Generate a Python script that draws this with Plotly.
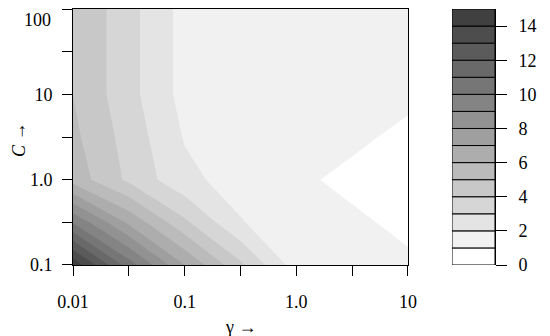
import numpy as np
import plotly.graph_objects as go

# grid of the parameter search
gamma_values = [0.01, 0.0316, 0.1, 0.316, 1.0, 3.16, 10.0]
C_values = [0.1, 0.316, 1.0, 3.16, 10.0, 31.6, 100.0]

# values (rows: C from 0.1 up to 100, columns: gamma 0.01 .. 10)
z_rows = [
    [14.7, 10.5, 7.0, 4.2, 1.5, 1.25, 1.11],    # C = 0.1
    [9.9, 6.8, 4.2, 2.07, 1.3, 1.113, 0.85],    # C = 0.316
    [5.59, 3.80, 2.26, 1.58, 1.113, 0.85, 0.80],  # C = 1
    [5.23, 3.59, 1.93, 1.5, 1.3, 1.128, 0.85],  # C = 3.16
    [4.99, 3.34, 1.645, 1.45, 1.35, 1.25, 1.144],  # C = 10
    [4.99, 3.34, 1.645, 1.45, 1.4, 1.35, 1.3],  # C = 31.6
    [4.99, 3.34, 1.645, 1.45, 1.4, 1.35, 1.3],  # C = 100
]

levels = list(range(0, 16))
x_tick_vals = [0.01, 0.0316, 0.1, 0.316, 1.0, 3.16, 10.0]
x_tick_text = ["0.01", "", "0.1", "", "1.0", "", "10"]
y_tick_vals = [0.1, 0.316, 1.0, 3.16, 10.0, 31.6, 100.0]
y_tick_text = ["0.1", "", "1.0", "", "10", "", ""]
y_top_label = "100"   # placed as annotation so it stays inside the page
cbar_tick_vals = [0, 2, 4, 6, 8, 10, 12, 14]

n_bands = len(levels) - 1
band_grays = [int(round(255 * (1 - 0.75 * k / (n_bands - 1)))) for k in range(n_bands)]
band_colors = [f"rgb({g},{g},{g})" for g in band_grays]
colorscale = [[k / (n_bands - 1), band_colors[k]] for k in range(n_bands)]

FONT = "Liberation Serif"
FS = 18
W, H = 550, 336
EPS = 1e-4
OFF = 8  # page body margin

px0, px1, py0, py1 = 73 - OFF, 408 - OFF, 9 - OFF, 265 - OFF
cx0, cx1 = 452 - OFF, 495 - OFF

fig = go.Figure()
fig.add_trace(go.Contour(
    x=np.log10(gamma_values), y=np.log10(C_values), z=z_rows,
    contours=dict(start=1, end=14, size=1, coloring="fill", showlines=False),
    line=dict(width=0, smoothing=0),
    colorscale=colorscale, showscale=False, hoverinfo="skip",
    xaxis="x", yaxis="y",
))

# colour key as stacked boxes on its own axis
fig.add_trace(go.Bar(
    x=[0] * n_bands, y=[1] * n_bands, base=levels[:-1], width=1,
    marker=dict(color=band_colors, line=dict(color="black", width=1)),
    xaxis="x2", yaxis="y2", showlegend=False, hoverinfo="skip",
))

common = dict(tickcolor="black", tickwidth=1, showgrid=False, zeroline=False,
              automargin=False, ticklabeloverflow="allow")

fig.update_layout(
    width=W, height=H, margin=dict(l=0, r=0, t=0, b=0, autoexpand=False),
    paper_bgcolor="white", plot_bgcolor="white",
    font=dict(family=FONT, size=FS, color="black"),
    showlegend=False,
    xaxis=dict(domain=[px0 / W, px1 / W], range=[-2 - EPS, 1 + EPS],
               tickvals=np.log10(x_tick_vals), ticktext=x_tick_text,
               ticks="outside", ticklen=10,
               showline=True, linecolor="black", linewidth=1, mirror=True,
               ticklabelstandoff=10, **common),
    yaxis=dict(domain=[1 - py1 / H, 1 - py0 / H], range=[-1 - EPS, 2 + EPS],
               tickvals=np.log10(y_tick_vals), ticktext=y_tick_text,
               ticks="outside", ticklen=10,
               showline=True, linecolor="black", linewidth=1, mirror=True,
               ticklabelstandoff=6, **common),
    xaxis2=dict(domain=[cx0 / W, cx1 / W], range=[-0.5, 0.5], anchor="y2",
                showticklabels=False, ticks="", showline=False, **common),
    yaxis2=dict(domain=[1 - py1 / H, 1 - py0 / H], range=[0, 15], anchor="x2",
                side="right", tickvals=cbar_tick_vals,
                ticks="outside", ticklen=11,
                showline=True, linecolor="black", linewidth=1,
                ticklabelstandoff=8, **common),
    annotations=[
        dict(text=y_top_label, x=(53 - OFF) / W, y=1, xref="paper", yref="paper",
             xanchor="right", yanchor="top", showarrow=False,
             font=dict(family=FONT, size=FS)),
        dict(text="γ →", x=(px0 + px1) / 2 / W, y=1 - (327 - OFF) / H, xref="paper", yref="paper",
             xanchor="center", yanchor="middle", showarrow=False,
             font=dict(family=FONT, size=FS)),
        dict(text="<i>C</i> →", x=(19 - OFF) / W, y=1 - (140 - OFF) / H, xref="paper", yref="paper",
             xanchor="center", yanchor="middle", showarrow=False, textangle=-90,
             font=dict(family=FONT, size=FS)),
    ],
)

fig.write_html("out.html")
